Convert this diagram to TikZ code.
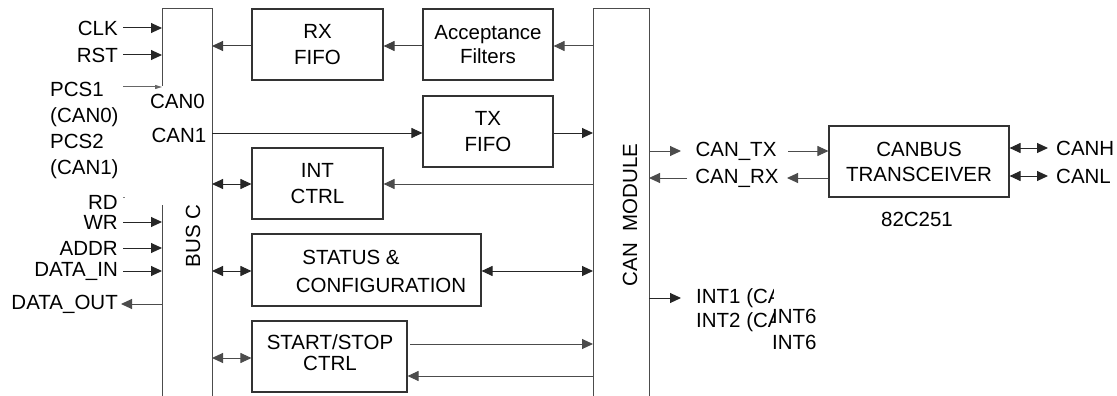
\documentclass[tikz,border=0pt]{standalone}
\usepackage{fontspec}
\setmainfont{Liberation Sans}
\usetikzlibrary{arrows.meta}
\begin{document}
\begin{tikzpicture}[x=1pt,y=-1pt,
  font=\fontsize{20.5}{26}\selectfont,
  ln/.style={line width=1pt,draw=black!85},
  arr/.style={ln,-{Triangle[length=11pt,width=10pt]}},
  darr/.style={ln,{Triangle[length=11pt,width=10pt]}-{Triangle[length=11pt,width=10pt]}},
  box/.style={draw=black!80,line width=1.1pt,inner sep=0pt,align=center},
  lbl/.style={inner sep=0pt},
]
\useasboundingbox (0,0) rectangle (1117,396);

% bus C
\coordinate (busLt) at (162,9);
\coordinate (busRt) at (212,9);
\coordinate (busLb) at (162,396);
\coordinate (busRb) at (212,396);
\draw[ln,draw=black!70] (162,86) -- (busLt) -- (busRt) -- (busRb);
\draw[ln,draw=black!70] (162,205) -- (busLb);
\node[lbl,rotate=90] (busc) at (193,236) {BUS C};

% CAN module
\coordinate (modLt) at (593,9);
\coordinate (modRt) at (649,9);
\draw[ln,draw=black!70] (593,396) -- (modLt) -- (modRt) -- (649,396);
\node[lbl,rotate=90] (canmod) at (630,215) {CAN~ MODULE};

% boxes
\node[box,minimum width=131,minimum height=71] (rx) at (317.5,44.5) {RX\\FIFO};
\node[box,minimum width=130,minimum height=71] (acc) at (488,44.5) {Acceptance\\[-2pt]Filters};
\node[box,minimum width=130,minimum height=71] (tx) at (488,131.5) {TX\\FIFO};
\node[box,minimum width=131,minimum height=71] (intc) at (317.5,183.5) {INT\\CTRL};
\node[box,minimum width=229,minimum height=72] (stat) at (366.5,270) {};
\node[lbl] (stat1) at (351,257) {STATUS \&};
\node[lbl] (stat2) at (381,285) {CONFIGURATION};
\node[box,minimum width=155,minimum height=71] (ss) at (329.5,356.5) {};
\node[lbl,align=center,font=\fontsize{20.5}{21.5}\selectfont] (sst) at (330,352.5) {START/STOP\\CTRL};
\node[box,minimum width=180,minimum height=71] (trx) at (919,161.5) {CANBUS\\[-1pt]TRANSCEIVER};
\node[lbl] (chip) at (917,219) {82C251};

% left inputs
\node[lbl,anchor=east] (clk) at (118,28) {CLK};
\node[lbl,anchor=east] (rst) at (118,55) {RST};
\node[lbl,anchor=west,align=left,font=\fontsize{20.5}{26.3}\selectfont] (pcs) at (50,130.5) {PCS1\\(CAN0)\\PCS2\\(CAN1)};
\node[lbl] (can0) at (177.5,101) {CAN0};
\node[lbl] (can1) at (179,135) {CAN1};
\node[lbl,anchor=east] (rd) at (118,202) {RD};
\node[lbl,anchor=east] (wr) at (118,222) {WR};
\node[lbl,anchor=east] (addr) at (118,248) {ADDR};
\node[lbl,anchor=east] (din) at (118,271) {DATA\_IN};
\node[lbl,anchor=east] (dout) at (118,304) {DATA\_OUT};

\coordinate (clkS) at (123,28);
\coordinate (rstS) at (123,55);
\coordinate (pcsS) at (123,87);
\coordinate (wrS) at (123,222);
\coordinate (adS) at (123,248);
\coordinate (diS) at (123,271);
\coordinate (doS) at (121,304);
\draw[arr] (clkS) -- (clkS -| busLt);
\draw[arr] (rstS) -- (rstS -| busLt);
\draw[ln,-{Triangle[length=7pt,width=4pt]},draw=black!60] (pcsS) -- (pcsS -| busLt);
\coordinate (rdS) at (123,197);
\draw[line width=0.6pt,black!50] (rdS) -- ++(2,0);
\draw[arr] (wrS) -- (wrS -| busLt);
\draw[arr] (adS) -- (adS -| busLt);
\draw[arr] (diS) -- (diS -| busLt);
\draw[arr,draw=black!70] (doS -| busLt) -- (doS);

% bus right side
\draw[arr,draw=black!75] (rx.west |- 0,46) -- (busRt |- 0,46);
\draw[arr,draw=black!75] (acc.west |- 0,46) -- (rx.east |- 0,46);
\draw[arr,draw=black!70] (modLt |- 0,46) -- (acc.east |- 0,46);
\coordinate (c1) at (212,133);
\draw[arr] (c1) -- (c1 -| tx.west);
\draw[arr] (tx.east |- c1) -- (modLt |- c1);
\coordinate (ic) at (212,184);
\draw[darr] (ic) -- (ic -| intc.west);
\draw[arr,draw=black!70] (modLt |- ic) -- (intc.east |- ic);
\coordinate (sc) at (212,271);
\draw[darr] (sc) -- (sc -| stat.west);
\draw[darr] (stat.east |- sc) -- (modLt |- sc);
\coordinate (ssc) at (212,358);
\draw[darr,draw=black!70] (ssc) -- (ssc -| ss.west);
\coordinate (ssa) at (410,344);
\draw[arr,draw=black!70] (ssa) -- (ssa -| modLt);
\coordinate (ssb) at (593,376);
\draw[arr,draw=black!70] (ssb) -- (ssb -| ss.east);

% right side of module
\node[lbl] (ctx) at (736,151) {CAN\_TX};
\node[lbl] (crx) at (737,178) {CAN\_RX};
\coordinate (txa) at (681,151);
\draw[arr,draw=black!70] (modRt |- txa) -- (txa);
\coordinate (txb) at (788,151);
\draw[arr,draw=black!70] (txb) -- (txb -| trx.west);
\coordinate (rxa) at (687,178);
\draw[arr,draw=black!70] (rxa) -- (rxa -| modRt);
\coordinate (rxb) at (787,178);
\draw[arr,draw=black!70] (trx.west |- rxb) -- (rxb);

\node[lbl,anchor=west] (canh) at (1056,148) {CANH};
\node[lbl,anchor=west] (canl) at (1056,176) {CANL};
\coordinate (ha) at (1048,148);
\coordinate (la) at (1048,176);
\draw[darr] (trx.east |- ha) -- (ha);
\draw[darr] (trx.east |- la) -- (la);

% interrupts
\coordinate (ia) at (681,298);
\draw[arr] (modRt |- ia) -- (ia);
\begin{scope}
\clip (690,280) rectangle (773,340);
\node[lbl,anchor=west] (int1) at (696,298) {INT1 (CA};
\node[lbl,anchor=west] (int2) at (696,322) {INT2 (CA};
\end{scope}
\node[lbl,anchor=west] (int6a) at (772,316) {INT6};
\node[lbl,anchor=west] (int6b) at (772,342) {INT6};
\end{tikzpicture}
\end{document}
